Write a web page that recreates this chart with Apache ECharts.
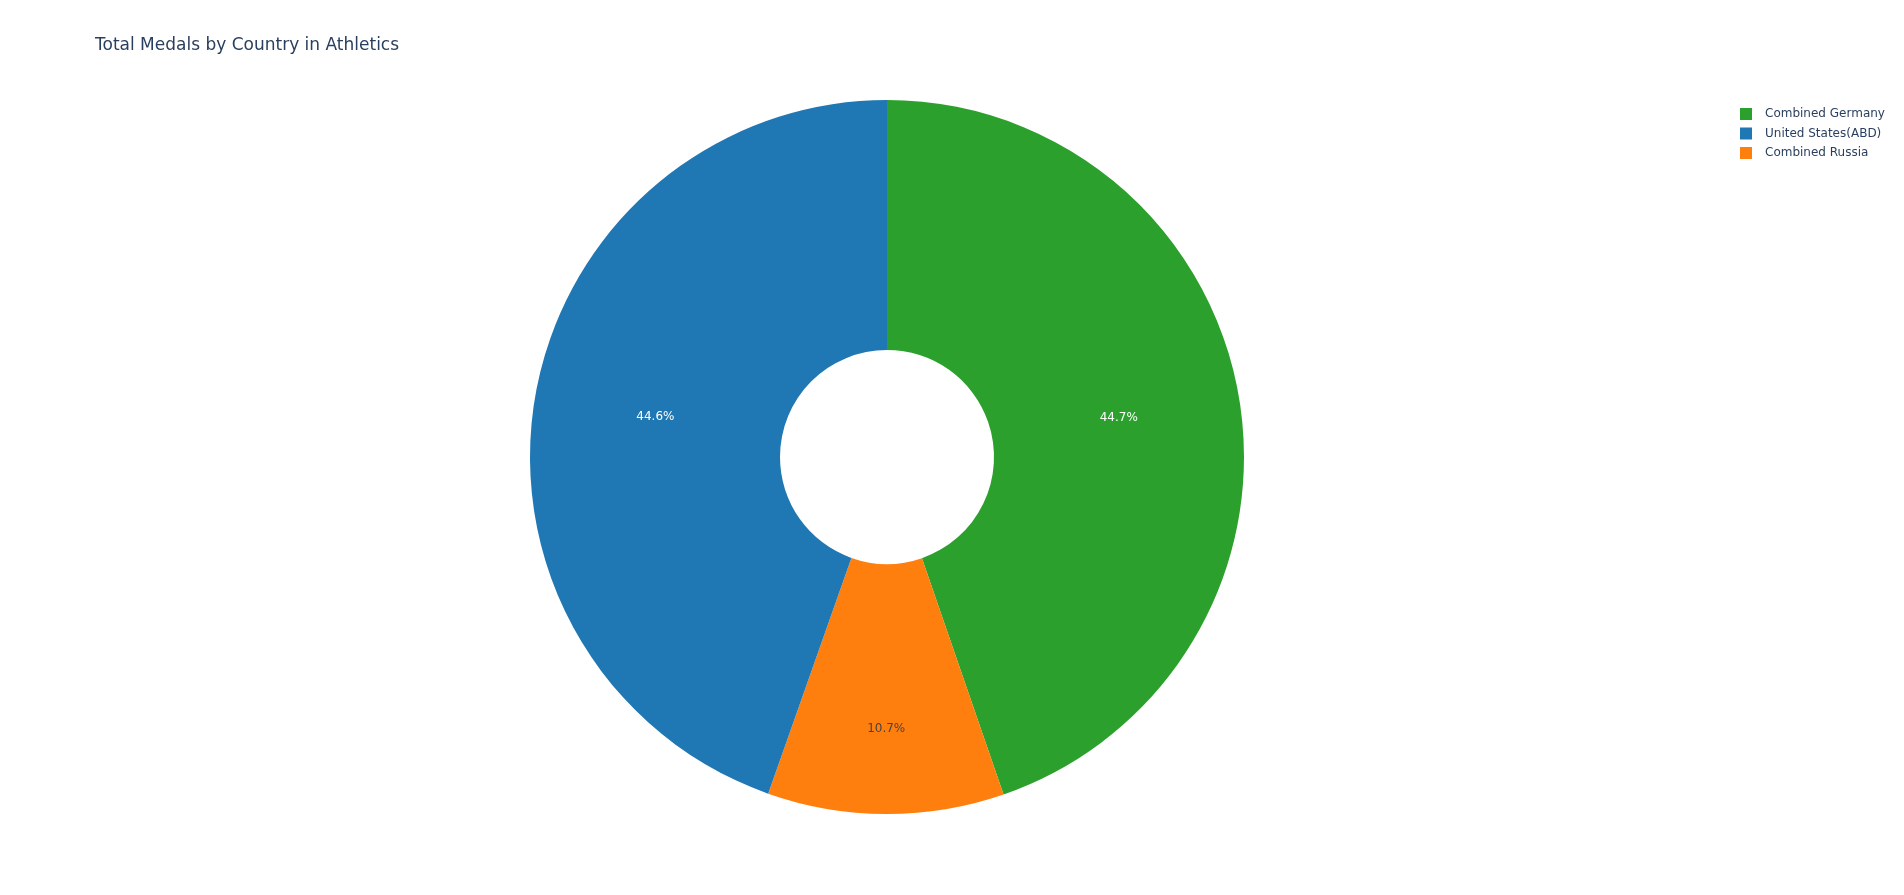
<!DOCTYPE html>
<html>
<head>
<meta charset="utf-8">
<script src="https://cdn.jsdelivr.net/npm/echarts@6/dist/echarts.min.js"></script>
<style>
  html, body { margin: 0; padding: 0; background: #fff; }
  #pie-chart { width: 1904px; height: 895px; }
</style>
</head>
<body>
<div id="pie-chart"></div>
<script>
// 数据
var countries = ['Combined Germany', 'Combined Russia', 'United States(ABD)'];
var medals = [418, 100, 417];
var colors = ['#2ca02c', '#ff7f0e', '#1f77b4'];
var labelColors = ['#ffffff', '#444444', '#ffffff'];
var legendOrder = ['Combined Germany', 'United States(ABD)', 'Combined Russia'];

var myChartPie = echarts.init(document.getElementById('pie-chart'));

var pieData = countries.map(function (name, i) {
    var item = {
        name: name,
        value: medals[i],
        itemStyle: { color: colors[i] },
        label: { color: labelColors[i] }
    };
    // 橙色扇区的标签稍微往外
    if (name === 'Combined Russia') {
        item.label.offset = [0, 37];
    }
    return item;
});

var pieOption = {
    backgroundColor: '#fff',
    textStyle: { fontFamily: 'Verdana, "DejaVu Sans", sans-serif' },
    title: {
        text: 'Total Medals by Country in Athletics',
        left: 90,
        top: 32,
        textStyle: {
            fontSize: 17,
            fontWeight: 'normal',
            color: '#2a3f5f',
            fontFamily: 'Verdana, "DejaVu Sans", sans-serif'
        }
    },
    tooltip: {
        trigger: 'item',
        formatter: '{b}: {c} ({d}%)'
    },
    legend: {
        orient: 'vertical',
        left: 1735,
        top: 103,
        itemWidth: 12,
        itemHeight: 12,
        itemGap: 7.5,
        icon: 'rect',
        data: legendOrder,
        textStyle: {
            fontSize: 12,
            color: '#2a3f5f',
            padding: [0, 0, 0, 8],
            fontFamily: 'Verdana, "DejaVu Sans", sans-serif'
        }
    },
    series: [{
        name: 'Medals',
        type: 'pie',
        center: [887, 457],
        radius: [107, 357],
        startAngle: 90,
        clockwise: true,
        avoidLabelOverlap: false,
        label: {
            show: true,
            position: 'inside',
            fontSize: 12,
            fontFamily: 'Verdana, "DejaVu Sans", sans-serif',
            formatter: function (p) { return p.percent.toFixed(1) + '%'; }
        },
        labelLine: { show: false },
        emphasis: { scale: false },
        data: pieData
    }]
};

myChartPie.setOption(pieOption);
</script>
</body>
</html>
